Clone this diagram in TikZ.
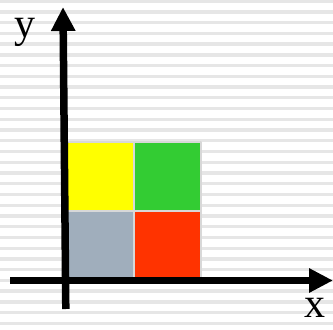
\documentclass[tikz,border=0pt]{standalone}
\usepackage{fontspec}
\setmainfont{Liberation Serif}
\usetikzlibrary{arrows.meta}
\definecolor{stripegray}{HTML}{E6E6E6}
\definecolor{cellyellow}{HTML}{FFFF00}
\definecolor{cellgreen}{HTML}{33CC33}
\definecolor{cellgray}{HTML}{A0AEBC}
\definecolor{cellred}{HTML}{FF3300}
\definecolor{cellline}{HTML}{D8D8D8}
\begin{document}
\begin{tikzpicture}[x=1pt,y=-1pt,line join=round,
    axis/.style={line width=7.5pt,-{Triangle[length=24pt,width=23pt]}},
    cell/.style={draw=cellline,line width=2pt},
    lbl/.style={font=\fontsize{42}{42}\selectfont,inner sep=0pt}]
\useasboundingbox (0,0) rectangle (333,330);
% striped background
\foreach \k in {0,...,30}
  \fill[stripegray] (0,{-0.5+10.74*\k}) rectangle (333,{2.8+10.74*\k});
% the four cells
\path
  (66,142) coordinate (TL)
  (133.5,211) coordinate (M)
  (201,278) coordinate (BR);
\foreach \c/\a/\b in {cellyellow/TL/M, cellred/M/BR} \filldraw[cell,fill=\c] (\a) rectangle (\b);
\filldraw[cell,fill=cellgreen] (M|-TL) rectangle (BR|-M);
\filldraw[cell,fill=cellgray] (TL|-M) rectangle (M|-BR);
% axes
\path
  (65.8,309) coordinate (Y0)
  (63,7) coordinate (Y1)
  (10,280.5) coordinate (X0)
  (333,280.5) coordinate (X1);
\draw[axis] (Y0)--(Y1);
\draw[axis] (X0)--(X1);
\node[lbl] (ylab) at (25,32) {y};
\node[lbl] (xlab) at (315,308) {x};
\end{tikzpicture}
\end{document}
